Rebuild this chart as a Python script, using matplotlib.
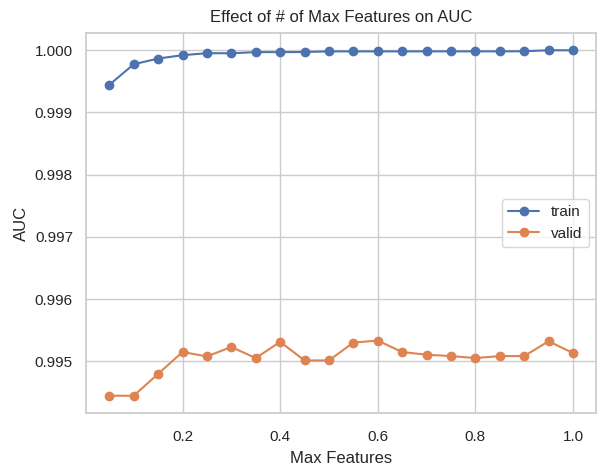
import matplotlib
matplotlib.use("Agg")
import matplotlib.pyplot as plt
import seaborn as sns

max_features = [0.05, 0.1, 0.15, 0.2, 0.25, 0.3, 0.35, 0.4, 0.45, 0.5,
                0.55, 0.6, 0.65, 0.7, 0.75, 0.8, 0.85, 0.9, 0.95, 1.0]

train_auc = [0.999443, 0.999773, 0.999865, 0.999919, 0.999951, 0.999950,
             0.999968, 0.999968, 0.999970, 0.999980, 0.999980, 0.999980,
             0.999980, 0.999980, 0.999980, 0.999980, 0.999980, 0.999982,
             0.999998, 0.999998]

valid_auc = [0.994449, 0.994449, 0.994800, 0.995151, 0.995081, 0.995232,
             0.995054, 0.995314, 0.995016, 0.995016, 0.995303, 0.995335,
             0.995151, 0.995108, 0.995086, 0.995054, 0.995086, 0.995086,
             0.995324, 0.995135]

sns.set_theme(style="whitegrid")
plt.rcParams['font.family'] = ['Liberation Sans', 'DejaVu Sans']

fig, ax = plt.subplots(figsize=(5.98, 4.68), dpi=100)
fig.subplots_adjust(left=0.144, right=0.997, top=0.9295, bottom=0.1175)

ax.plot(max_features, train_auc, marker='o', label='train')
ax.plot(max_features, valid_auc, marker='o', label='valid')

ax.tick_params(axis='x', pad=6)
ax.set_xlabel('Max Features', labelpad=5)
ax.set_ylabel('AUC')
ax.set_title('Effect of # of Max Features on AUC', pad=8)
ax.legend(loc='center right')

fig.savefig('out.png', dpi=100)
